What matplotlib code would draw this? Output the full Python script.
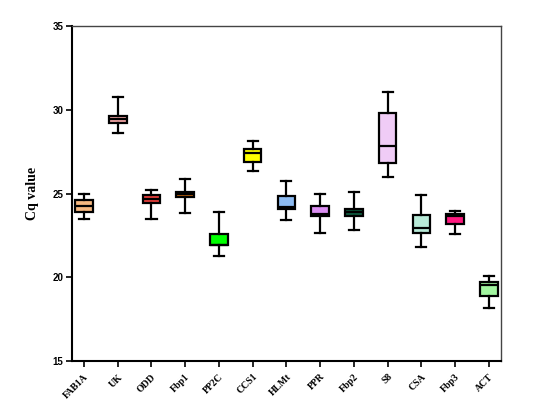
import matplotlib
matplotlib.use("Agg")
import matplotlib.pyplot as plt

genes = ["FAB1A", "UK", "ODD", "Fbp1", "PP2C", "CCS1", "HLMt", "PPR", "Fbp2", "S8", "CSA", "Fbp3", "ACT"]
whislo = [23.46, 28.60, 23.46, 23.85, 21.29, 26.32, 23.42, 22.66, 22.82, 25.97, 21.82, 22.58, 18.18]
q1     = [23.90, 29.20, 24.41, 24.77, 21.91, 26.88, 24.06, 23.66, 23.68, 26.84, 22.62, 23.18, 18.88]
med    = [24.27, 29.45, 24.67, 24.97, 21.93, 27.42, 24.21, 23.78, 23.90, 27.82, 22.94, 23.66, 19.54]
q3     = [24.60, 29.63, 24.93, 25.11, 22.60, 27.68, 24.85, 24.25, 24.07, 29.80, 23.74, 23.80, 19.72]
whishi = [24.95, 30.76, 25.19, 25.85, 23.88, 28.15, 25.76, 24.99, 25.09, 31.04, 24.89, 23.96, 20.07]
colors = ["#F5B880", "#F4A7A7", "#E8403C", "#C4640C", "#00FF00", "#FFFF00", "#8DBBF2",
          "#DB8EF2", "#0F5C40", "#F0CCF6", "#B8EAD8", "#FF1A80", "#A2F5A0"]

stats = []
for g, lo, a, m, b, hi in zip(genes, whislo, q1, med, q3, whishi):
    stats.append(dict(label=g, whislo=lo, q1=a, med=m, q3=b, whishi=hi, fliers=[]))

fig = plt.figure(figsize=(5.57, 4.08), dpi=100)
ax = fig.add_axes([0.129, 0.115, 0.7705, 0.821])

lw = 1.6
pos = list(range(1, len(genes) + 1))
bp = ax.bxp(stats, positions=pos, widths=0.52, patch_artist=True, showfliers=False,
            capwidths=0.3,
            boxprops=dict(linewidth=lw, edgecolor="black"),
            medianprops=dict(color="black", linewidth=lw),
            whiskerprops=dict(color="black", linewidth=lw),
            capprops=dict(color="black", linewidth=lw))
for patch, c in zip(bp["boxes"], colors):
    patch.set_facecolor(c)

ax.set_ylim(15, 35)
ax.set_xlim(0.64, 13.36)
ax.set_yticks([15, 20, 25, 30, 35])
ax.set_yticklabels(["15", "20", "25", "30", "35"], fontsize=7, fontweight="bold",
                   family="Liberation Sans")
ax.set_xticks(pos)
ax.set_xticklabels(genes, rotation=45, ha="right", rotation_mode="anchor",
                   fontsize=7, fontweight="bold", family="Liberation Serif")
ax.set_ylabel("Cq value", fontsize=10, fontweight="bold", family="Liberation Serif", labelpad=10)

for s in ["left", "bottom"]:
    ax.spines[s].set_linewidth(1.5)
    ax.spines[s].set_color("black")
for s in ["top", "right"]:
    ax.spines[s].set_linewidth(1.0)
    ax.spines[s].set_color("#444444")
ax.tick_params(axis="both", direction="out", length=4, width=1.2, color="black")
ax.tick_params(axis="y", pad=2)
ax.tick_params(axis="x", pad=4)

fig.savefig("out.png", dpi=100)
